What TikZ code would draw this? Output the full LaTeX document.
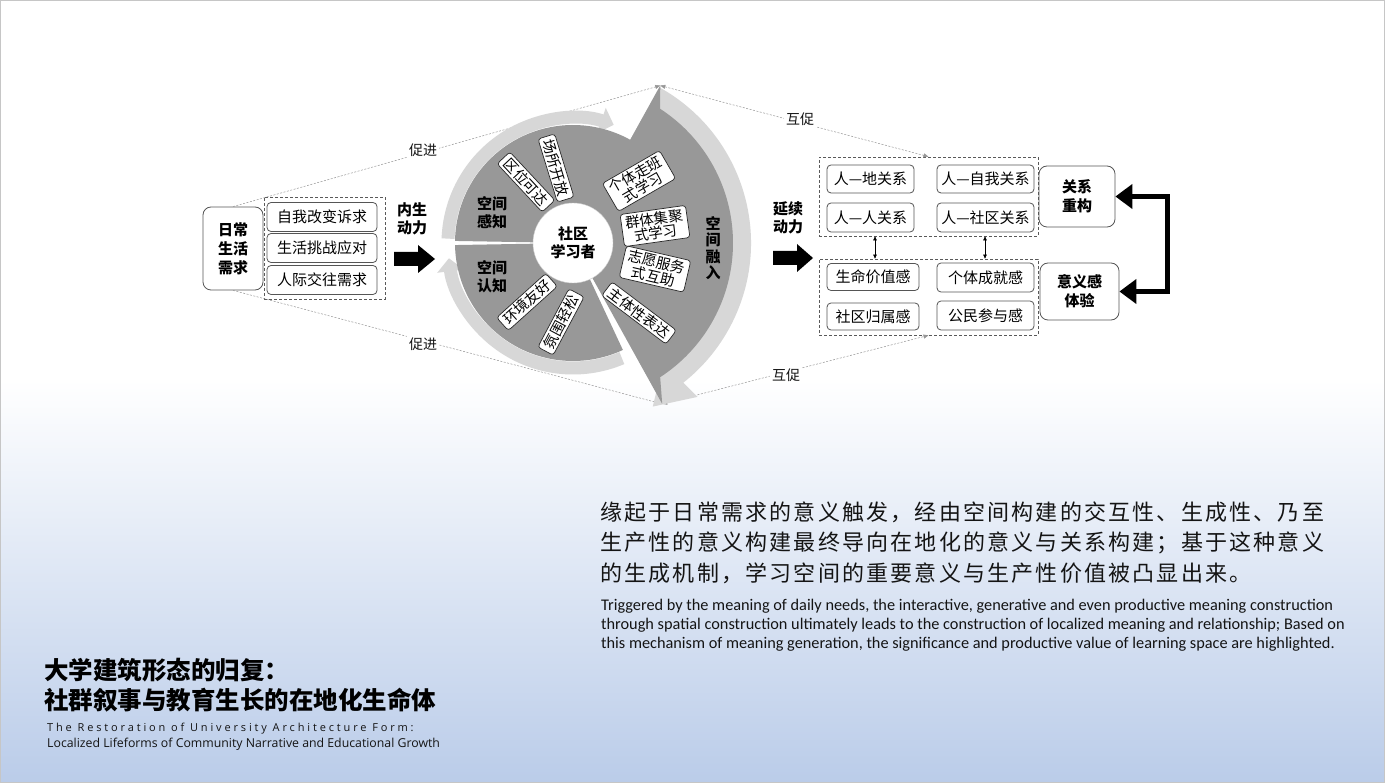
\documentclass[tikz,border=0pt]{standalone}
\usepackage{fontspec}
\setmainfont{Noto Sans CJK SC}
\newfontfamily\cjk{Noto Sans CJK SC}
\newfontfamily\cjkls[LetterSpace=10]{Noto Sans CJK SC}
\newfontfamily\carl{Carlito}
\newfontfamily\osans{Open Sans}
\newfontfamily\osansls[LetterSpace=26]{Open Sans}
\usetikzlibrary{arrows.meta,calc}
\definecolor{darkg}{RGB}{152,152,152}
\definecolor{ringg}{RGB}{215,215,215}
\definecolor{bgb}{RGB}{186,204,233}
\definecolor{boxline}{RGB}{85,85,85}
\definecolor{dline}{RGB}{150,150,150}
\definecolor{txt}{RGB}{20,20,20}
\tikzset{
  relbox/.style={draw=boxline, line width=0.8pt, rounded corners=4pt, fill=white, inner sep=0pt, font=\cjk\fontsize{15}{18}\selectfont},
  wedgebox/.style={draw=black!85, line width=0.7pt, rounded corners=3pt, fill=white, inner xsep=4pt, inner ysep=2pt, font=\cjk\fontsize{14.5}{15}\selectfont, align=center},
  boldlbl/.style={font=\cjk\bfseries\fontsize{15}{18}\selectfont, align=center, inner sep=0pt},
  bigbox/.style={draw=boxline, line width=0.8pt, rounded corners=8pt, fill=white, align=center, inner sep=0pt, font=\cjk\bfseries\fontsize{15}{19}\selectfont},
  dashframe/.style={draw=gray!70!black, line width=0.7pt, dash pattern=on 3pt off 2pt, inner sep=0pt},
  thinlink/.style={draw=dline, line width=0.5pt, dash pattern=on 2pt off 1.5pt},
  promo/.style={font=\cjk\fontsize{14}{16}\selectfont, fill=white, inner sep=2pt, text=txt},
  blockarrow/.style={fill=black},
}
\begin{document}
\begin{tikzpicture}[x=1pt,y=-1pt]
\useasboundingbox (0,0) rectangle (1385,783);
% background
\fill[white] (0,0) rectangle (1385,783);
\shade[top color=white, bottom color=bgb] (0,380) rectangle (1385,783);
\draw[gray!45, line width=1pt] (0.5,0.5) rectangle (1384.5,782.5);

% ---------- left block ----------
\node[bigbox, minimum width=60pt, minimum height=83pt] (need) at (233,248.5) {日常\\生活\\需求};
\node[dashframe, minimum width=121pt, minimum height=102pt] (needs) at (324.5,248) {};
\node[relbox, minimum width=110pt, minimum height=29pt] (n1) at (322,217) {自我改变诉求};
\node[relbox, minimum width=110pt, minimum height=29pt] (n2) at (322,248) {生活挑战应对};
\node[relbox, minimum width=110pt, minimum height=29pt] (n3) at (322,280) {人际交往需求};
\node[boldlbl] (inner) at (412,219) {内生\\动力};
\fill[blockarrow] (394,252) -- (418,252) -- (418,245) -- (435,259) -- (418,273) -- (418,266) -- (394,266) -- cycle;

% ---------- right block ----------
\node[boldlbl] (cont) at (788,218) {延续\\动力};
\fill[blockarrow] (773,251) -- (797,251) -- (797,244) -- (813,258) -- (797,272) -- (797,265) -- (773,265) -- cycle;
\node[dashframe, minimum width=219pt, minimum height=79pt] (relframe) at (928.5,196.5) {};
\node[relbox, minimum width=87pt, minimum height=28pt] (r1) at (870.5,179) {人—地关系};
\node[relbox, minimum width=97pt, minimum height=28pt] (r2) at (985.5,179) {人—自我关系};
\node[relbox, minimum width=87pt, minimum height=29pt] (r3) at (870.5,217.5) {人—人关系};
\node[relbox, minimum width=97pt, minimum height=29pt] (r4) at (985.5,217.5) {人—社区关系};
\node[dashframe, minimum width=219pt, minimum height=76pt] (senseframe) at (928.5,297) {};
\node[relbox, minimum width=92pt, minimum height=27pt] (s1) at (873,277) {生命价值感};
\node[relbox, minimum width=97pt, minimum height=29pt] (s2) at (985.5,277.5) {个体成就感};
\node[relbox, minimum width=92pt, minimum height=27pt] (s3) at (873,316.5) {社区归属感};
\node[relbox, minimum width=97pt, minimum height=29pt] (s4) at (985.5,315.5) {公民参与感};
\draw[black, line width=0.6pt, {Triangle[length=4pt,width=3.5pt]}-{Triangle[length=4pt,width=3.5pt]}]
  ([xshift=-53.5pt]relframe.south) -- ([xshift=-53.5pt]senseframe.north);
\draw[black, line width=0.6pt, {Triangle[length=4pt,width=3.5pt]}-{Triangle[length=4pt,width=3.5pt]}]
  ([xshift=56.5pt]relframe.south) -- ([xshift=56.5pt]senseframe.north);
\node[bigbox, minimum width=76pt, minimum height=61pt] (relre) at (1077,196.5) {关系\\重构};
\node[bigbox, minimum width=79pt, minimum height=57pt] (senseexp) at (1079.5,291.5) {意义感\\体验};
\draw[black, line width=5.5pt, {Triangle[length=17pt,width=24pt]}-{Triangle[length=17pt,width=24pt]}]
  (relre.east) -- ++(52,0) |- (senseexp.east);

% ---------- circle vertices ----------
\coordinate (C) at (573,243);
\coordinate (vt) at ($(C)+(61:180pt)$);
\coordinate (vb) at ($(C)+(-61:184pt)$);

% dashed links
\draw[thinlink, -{Triangle[length=5pt,width=4pt]}] (need.north) -- (vt);
\draw[thinlink, -{Triangle[length=5pt,width=4pt]}] (need.south) -- (vb);
\draw[thinlink, {Triangle[length=5pt,width=4pt]}-{Triangle[length=5pt,width=4pt]}] (vt) -- (relframe.north);
\draw[thinlink, {Triangle[length=5pt,width=4pt]}-{Triangle[length=5pt,width=4pt]}] (vb) -- (senseframe.south);
\node[promo] (p1) at (423,150) {促进};
\node[promo] (p2) at (423,344) {促进};
\node[promo] (h1) at (800,119) {互促};
\node[promo] (h2) at (786,375) {互促};

% ---------- circle ----------
% right sector
\fill[ringg] (C) -- ($(C)+(61:178pt)$) arc[start angle=61, end angle=-55, radius=178pt] -- cycle;
\fill[ringg] ($(C)+(-51:198pt)$) -- ($(C)+(-53:150pt)$) -- ($(C)+(-64:182pt)$) -- cycle;
\fill[darkg] (C) -- (vt) -- ($(C)+(57:160pt)$) arc[start angle=57, end angle=-57, radius=160pt] -- (vb) -- cycle;
% left rings
\draw[ringg, line width=13pt, -{Triangle[length=13pt,width=26pt]}] ($(C)+(178:125pt)$) arc[start angle=178, end angle=71, radius=125pt];
\draw[ringg, line width=13pt, -{Triangle[length=13pt,width=26pt]}] ($(C)+(-67:125pt)$) arc[start angle=-67, end angle=-173, radius=125pt];
% left sectors
\fill[darkg] (C) -- ($(C)+(179:118pt)$) arc[start angle=179, end angle=57, radius=118pt] -- cycle;
\fill[darkg] (C) -- ($(C)+(-65:118pt)$) arc[start angle=-65, end angle=-179, radius=118pt] -- cycle;
% centre
\node[circle, fill=white, draw=gray!40, minimum size=80pt, boldlbl] (learner) at (C) {社区\\学习者};
\node[boldlbl] (perc) at (492,213) {空间\\感知};
\node[boldlbl] (cogn) at (492,277) {空间\\认知};
\node[boldlbl, font=\cjk\bfseries\fontsize{15}{16.5}\selectfont] (fusion) at (713,248) {空\\间\\融\\入};
\node[wedgebox, rotate=-47] (w1) at (526,182) {区位可达};
\node[wedgebox, rotate=-73] (w2) at (556,168) {场所开放};
\node[wedgebox, rotate=42] (w3) at (527,302) {环境友好};
\node[wedgebox, rotate=62] (w4) at (561,322) {氛围轻松};
\node[wedgebox, rotate=30] (w5) at (639,181) {个体走班\\式学习};
\node[wedgebox, rotate=8] (w6) at (655,226) {群体集聚\\式学习};
\node[wedgebox, rotate=-13] (w7) at (655,269) {志愿服务\\式互助};
\node[wedgebox, rotate=-37] (w8) at (639,313) {主体性表达};

% ---------- texts ----------
\node[anchor=west, inner sep=0pt, text=txt, font=\cjkls\fontsize{22}{26}\selectfont] (para1) at (600,512) {缘起于日常需求的意义触发，经由空间构建的交互性、生成性、乃至};
\node[anchor=west, inner sep=0pt, text=txt, font=\cjkls\fontsize{22}{26}\selectfont] (para2) at (600,543) {生产性的意义构建最终导向在地化的意义与关系构建；基于这种意义};
\node[anchor=west, inner sep=0pt, text=txt, font=\cjkls\fontsize{22}{26}\selectfont] (para3) at (600,573) {的生成机制，学习空间的重要意义与生产性价值被凸显出来。};
\node[anchor=west, inner sep=0pt, text=txt, font=\carl\fontsize{16.3}{19}\selectfont] (en1) at (601,606) {Triggered by the meaning of daily needs, the interactive, generative and even productive meaning construction};
\node[anchor=west, inner sep=0pt, text=txt, font=\carl\fontsize{16.3}{19}\selectfont] (en2) at (601,625) {through spatial construction ultimately leads to the construction of localized meaning and relationship; Based on};
\node[anchor=west, inner sep=0pt, text=txt, font=\carl\fontsize{16.3}{19}\selectfont] (en3) at (601,644) {this mechanism of meaning generation, the significance and productive value of learning space are highlighted.};

\node[anchor=west, inner sep=0pt, text=black, font=\cjk\bfseries\fontsize{24.5}{28}\selectfont] (title1) at (44,670) {大学建筑形态的归复：};
\node[anchor=west, inner sep=0pt, text=black, font=\cjk\bfseries\fontsize{24.5}{28}\selectfont] (title2) at (44,700) {社群叙事与教育生长的在地化生命体};
\node[anchor=west, inner sep=0pt, text=txt, font=\osansls\fontsize{11}{12}\selectfont] (title3) at (47,729) {The Restoration of University Architecture Form:};
\node[anchor=west, inner sep=0pt, text=txt, font=\osans\fontsize{12.3}{13}\selectfont] (title4) at (47,744) {Localized Lifeforms of Community Narrative and Educational Growth};
\end{tikzpicture}
\end{document}
